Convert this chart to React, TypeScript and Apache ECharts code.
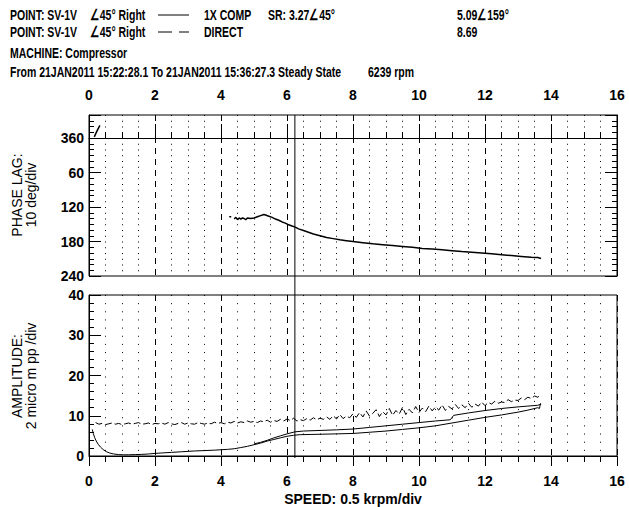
import React, { useEffect, useRef } from 'react';
import * as echarts from 'echarts';

// ---- data (speed in krpm) ----
const phaseSpeed = [0.16, 0.24, 0.33, 0.34,
  4.25, 4.31, 4.32,
  4.4, 4.45, 4.5, 4.55, 4.6, 4.65, 4.7, 4.75, 4.8, 4.9, 5.0, 5.1, 5.2, 5.3, 5.35, 5.45, 5.55, 5.65, 5.75, 5.85, 5.95,
  6.05, 6.15, 6.25, 6.35, 6.5, 6.65, 6.8, 7.0, 7.2, 7.4, 7.6, 7.8, 8.0, 8.3, 8.6, 8.9, 9.2, 9.5, 9.8, 10.1, 10.4,
  10.7, 11.0, 11.3, 11.6, 11.9, 12.2, 12.5, 12.8, 13.1, 13.4, 13.6, 13.7];
const phaseLag = [-2, -12, -22, null,
  137, 137, null,
  141, 138, 142, 139, 141, 139, 140, 142, 139, 140, 139, 137, 135, 133, 134, 136, 138, 141, 143, 146, 148,
  151, 153, 155, 158, 161, 164, 167, 170, 173, 175, 177, 178.5, 180, 182, 184, 185.5, 187, 188.5, 190, 192, 193,
  194.5, 196, 197.5, 198.5, 200, 201.5, 203, 204.5, 206, 207.5, 208, 209.5];

const compSpeed = [0.10, 0.13, 0.17, 0.22, 0.28, 0.35, 0.43, 0.52, 0.62, 0.75, 0.9, 1.05, 1.2, 1.4, 1.6, 1.8, 2.0,
  2.2, 2.5, 2.8, 3.0, 3.2, 3.5, 3.8, 4.0, 4.2, 4.4, 4.6, 4.8, 5.0, 5.2, 5.4, 5.6, 5.8, 6.0, 6.2, 6.4, 6.7, 7.0,
  7.5, 8.0, 8.5, 9.0, 9.5, 10.0, 10.5, 11.0, 11.5, 12.0, 12.5, 13.0, 13.3, 13.6, 13.65, 13.68, 13.7,
  13.6, 13.3, 13.0, 12.5, 12.0, 11.5, 11.05, 10.95, 10.5, 10.0, 9.5, 9.0, 8.5, 8.0, 7.5, 7.0, 6.5, 6.24, 6.0,
  5.8, 5.6, 5.4, 5.2, 5.0];
const compAmp = [6.6, 5.6, 4.6, 3.7, 2.9, 2.2, 1.6, 1.1, 0.75, 0.5, 0.35, 0.3, 0.3, 0.35, 0.4, 0.5, 0.65,
  0.75, 0.9, 1.05, 1.15, 1.25, 1.35, 1.45, 1.55, 1.65, 1.8, 2.1, 2.4, 2.8, 3.2, 3.7, 4.1, 4.5, 4.9, 5.15, 5.3, 5.35, 5.4,
  5.5, 5.6, 5.9, 6.2, 6.6, 7.0, 7.5, 8.2, 8.9, 9.6, 10.2, 10.9, 11.4, 12.0, 11.8, 13.0, 12.9,
  12.6, 12.4, 12.2, 11.8, 11.3, 10.7, 10.1, 9.0, 8.7, 8.3, 7.9, 7.5, 7.1, 6.7, 6.5, 6.35, 6.2, 6.0, 5.5,
  5.0, 4.5, 3.9, 3.4, 3.0];

const directSpeed = [0.2, 0.3, 0.4, 0.5, 0.6, 0.7, 0.8, 0.9, 1.0, 1.1,
  1.2, 1.3, 1.4, 1.5, 1.6, 1.7, 1.8, 1.9, 2.0, 2.1,
  2.2, 2.3, 2.4, 2.5, 2.6, 2.7, 2.8, 2.9, 3.0, 3.1,
  3.2, 3.3, 3.4, 3.5, 3.6, 3.7, 3.8, 3.9, 4.0, 4.1,
  4.2, 4.3, 4.4, 4.5, 4.6, 4.7, 4.8, 4.9, 5.0, 5.1,
  5.2, 5.3, 5.4, 5.5, 5.6, 5.7, 5.8, 5.9, 6.0, 6.1,
  6.2, 6.3, 6.4, 6.5, 6.6, 6.7, 6.8, 6.9, 7.0, 7.1,
  7.2, 7.3, 7.4, 7.5, 7.6, 7.7, 7.8, 7.9, 8.0, 8.1,
  8.2, 8.3, 8.4, 8.5, 8.6, 8.7, 8.8, 8.9, 9.0, 9.1,
  9.2, 9.3, 9.4, 9.5, 9.6, 9.7, 9.8, 9.9, 10.0, 10.1,
  10.2, 10.3, 10.4, 10.5, 10.6, 10.7, 10.8, 10.9, 11.0, 11.1,
  11.2, 11.3, 11.4, 11.5, 11.6, 11.7, 11.8, 11.9, 12.0, 12.1,
  12.2, 12.3, 12.4, 12.5, 12.6, 12.7, 12.8, 12.9, 13.0, 13.1,
  13.2, 13.3, 13.4, 13.5, 13.6, 13.7];
const directAmp = [8.3, 7.9, 8.1, 7.8, 8.0, 8.2, 7.9, 8.1, 7.8, 8.0,
  8.2, 7.9, 8.1, 8.3, 7.9, 8.0, 8.2, 7.8, 8.1, 8.0,
  8.2, 7.9, 8.3, 8.0, 7.8, 8.1, 8.3, 7.9, 8.2, 8.0,
  7.9, 8.3, 8.1, 7.9, 8.2, 8.0, 8.4, 8.1, 8.3, 8.0,
  8.4, 8.2, 8.6, 8.2, 8.5, 8.3, 8.7, 8.4, 8.6, 8.3,
  8.7, 8.5, 8.9, 8.4, 8.8, 8.6, 9.1, 8.7, 9.2, 8.8,
  9.4, 8.7, 9.0, 8.8, 9.3, 8.9, 9.5, 9.0, 9.4, 9.1,
  9.7, 9.1, 10.0, 9.2, 10.3, 9.3, 9.9, 9.5, 10.5, 9.6,
  10.8, 9.7, 11.2, 9.9, 10.6, 11.5, 9.8, 11.0, 10.2, 11.8,
  10.1, 11.3, 10.4, 12.1, 10.3, 11.6, 10.7, 12.3, 10.8, 11.9,
  11.0, 12.4, 11.2, 12.2, 11.4, 12.7, 11.3, 12.3, 11.7, 12.8,
  11.8, 12.7, 12.0, 13.1, 12.1, 12.9, 12.4, 13.4, 12.5, 13.3,
  12.9, 13.6, 13.1, 13.4, 13.3, 14.0, 13.5, 13.9, 13.8, 14.4,
  14.0, 14.6, 14.3, 14.9, 14.6, 15.3];

const cursorSpeed = 6.239;
const phaseLabels = ['360', '60', '120', '180', '240']; // for phase lag 0,60,120,180,240
const phaseLabelValues = [0, 60, 120, 180, 240];

const headerLine1 = ['POINT: SV-1V', '\u222045\u00b0 Right', '1X COMP', 'SR: 3.27\u222045\u00b0', '5.09\u2220159\u00b0'];
const headerLine2 = ['POINT: SV-1V', '\u222045\u00b0 Right', 'DIRECT', '8.69'];
const headerLine3 = 'MACHINE: Compressor';
const headerLine4 = ['From 21JAN2011 15:22:28.1 To 21JAN2011 15:36:27.3 Steady State', '6239 rpm'];

const BOLD = "'Liberation Sans', Arial, sans-serif";
const REG = "'Liberation Sans', Arial, sans-serif";

function pairs(xs: number[], ys: (number | null)[]) {
  return xs.map((x, i) => [x, ys[i] === null ? '-' : ys[i]]);
}

function htext(x: number, y: number, text: string) {
  return {
    type: 'text', x, y, scaleX: 0.7, silent: true,
    style: { text, fill: '#000', fontFamily: BOLD, fontSize: 15, fontWeight: 'bold', verticalAlign: 'middle' },
  };
}

export default function App() {
  const ref = useRef<HTMLDivElement>(null);
  useEffect(() => {
    if (!ref.current) return;
    const chart = echarts.init(ref.current, null, { renderer: 'svg' });
    const black = '#000';
    const axisLabelStyle = { color: black, fontFamily: BOLD, fontSize: 14, fontWeight: 'bold' };
    const Y1 = 15, Y2 = 32, Y3 = 53, Y4 = 72;
    const option: any = {
      animation: false,
      backgroundColor: '#fff',
      grid: [
        { left: 89, right: 12, top: 115, height: 161, show: true, borderColor: black, borderWidth: 1, backgroundColor: 'transparent' },
        { left: 89, right: 12, top: 295, height: 163, show: true, borderColor: black, borderWidth: 1, backgroundColor: 'transparent' },
        { left: 89, right: 12, top: 115, height: 343, show: false },
      ],
      xAxis: [
        {
          gridIndex: 0, type: 'value', position: 'top', min: 0, max: 16, interval: 2,
          axisLine: { show: true, lineStyle: { color: black } },
          axisTick: { show: true, inside: false, length: 14, lineStyle: { color: black } },
          minorTick: { show: true, splitNumber: 4, length: 6, lineStyle: { color: black } },
          axisLabel: { ...axisLabelStyle, margin: 13 },
          splitLine: { show: true, lineStyle: { color: black, type: [6, 5], width: 1 } },
          minorSplitLine: { show: true, lineStyle: { color: black, type: [1, 4.75], width: 1 } },
        },
        {
          gridIndex: 1, type: 'value', position: 'bottom', min: 0, max: 16, interval: 2,
          axisLine: { show: true, lineStyle: { color: black } },
          axisTick: { show: true, inside: false, length: 10, lineStyle: { color: black } },
          minorTick: { show: true, splitNumber: 4, length: 6, lineStyle: { color: black } },
          axisLabel: { ...axisLabelStyle, margin: 18 },
          splitLine: { show: true, lineStyle: { color: black, type: [6, 5], width: 1 } },
          minorSplitLine: { show: true, lineStyle: { color: black, type: [1, 7.15], width: 1 } },
          name: 'SPEED: 0.5 krpm/div', nameLocation: 'middle', nameGap: 36,
          nameTextStyle: { color: black, fontFamily: BOLD, fontSize: 14, fontWeight: 'bold' },
        },
        { gridIndex: 2, type: 'value', min: 0, max: 16, show: false },
      ],
      yAxis: [
        {
          gridIndex: 0, type: 'value', inverse: true, min: -40, max: 240, interval: 10, position: 'left',
          axisLine: { show: true, lineStyle: { color: black } },
          axisTick: { show: true, inside: true, length: 5, lineStyle: { color: black } },
          axisLabel: { show: false }, splitLine: { show: false },
        },
        {
          gridIndex: 0, type: 'value', min: 0, max: 280, interval: 60, position: 'left',
          axisLine: { show: false },
          axisTick: { show: true, inside: true, length: 12, lineStyle: { color: black } },
          axisLabel: {
            ...axisLabelStyle, margin: 5,
            formatter: (v: number) => {
              const idx = phaseLabelValues.indexOf(240 - v);
              return idx >= 0 ? phaseLabels[idx] : '';
            },
          },
          splitLine: { show: false },
        },
        {
          gridIndex: 0, type: 'value', inverse: true, min: -40, max: 240, interval: 10, position: 'right',
          axisLine: { show: true, lineStyle: { color: black } },
          axisTick: { show: true, inside: true, length: 5, lineStyle: { color: black } },
          axisLabel: { show: false }, splitLine: { show: false },
        },
        {
          gridIndex: 0, type: 'value', min: 0, max: 280, interval: 60, position: 'right',
          axisLine: { show: false },
          axisTick: { show: true, inside: true, length: 12, lineStyle: { color: black } },
          axisLabel: { show: false }, splitLine: { show: false },
        },
        {
          gridIndex: 1, type: 'value', min: 0, max: 40, interval: 10, position: 'left',
          axisLine: { show: true, lineStyle: { color: black } },
          axisTick: { show: true, inside: true, length: 12, lineStyle: { color: black } },
          minorTick: { show: true, splitNumber: 5, length: 5, lineStyle: { color: black } },
          axisLabel: { ...axisLabelStyle, margin: 5 },
          splitLine: { show: false },
        },
        { gridIndex: 2, type: 'value', min: 0, max: 1, show: false },
      ],
      series: [
        {
          type: 'line', xAxisIndex: 0, yAxisIndex: 0, data: pairs(phaseSpeed, phaseLag),
          symbol: 'none', connectNulls: false, silent: true,
          lineStyle: { color: black, width: 1.5 },
        },
        {
          type: 'line', xAxisIndex: 1, yAxisIndex: 4, data: pairs(compSpeed, compAmp),
          symbol: 'none', silent: true, lineStyle: { color: black, width: 1 },
        },
        {
          type: 'line', xAxisIndex: 1, yAxisIndex: 4, data: pairs(directSpeed, directAmp),
          symbol: 'none', silent: true, lineStyle: { color: black, width: 1, type: [7, 3] },
        },
        {
          type: 'line', xAxisIndex: 2, yAxisIndex: 5, data: [[cursorSpeed, 0], [cursorSpeed, 1]],
          symbol: 'none', silent: true, lineStyle: { color: black, width: 1 },
        },
      ],
      graphic: [
        htext(10, Y1, headerLine1[0]),
        htext(90, Y1, headerLine1[1]),
        { type: 'line', silent: true, shape: { x1: 158, y1: Y1, x2: 189, y2: Y1 }, style: { stroke: black, lineWidth: 1 } },
        htext(204, Y1, headerLine1[2]),
        htext(268, Y1, headerLine1[3]),
        htext(457, Y1, headerLine1[4]),
        htext(10, Y2, headerLine2[0]),
        htext(90, Y2, headerLine2[1]),
        { type: 'line', silent: true, shape: { x1: 158, y1: Y2, x2: 172, y2: Y2 }, style: { stroke: black, lineWidth: 1 } },
        { type: 'line', silent: true, shape: { x1: 179, y1: Y2, x2: 189, y2: Y2 }, style: { stroke: black, lineWidth: 1 } },
        htext(204, Y2, headerLine2[2]),
        htext(457, Y2, headerLine2[3]),
        htext(10, Y3, headerLine3),
        htext(10, Y4, headerLine4[0]),
        htext(368, Y4, headerLine4[1]),
        { type: 'text', x: 17, y: 195, rotation: Math.PI / 2, silent: true,
          style: { text: 'PHASE LAG:', fill: black, fontFamily: REG, fontSize: 14, align: 'center', verticalAlign: 'middle' } },
        { type: 'text', x: 31, y: 195, rotation: Math.PI / 2, silent: true,
          style: { text: '10 deg/div', fill: black, fontFamily: REG, fontSize: 14, align: 'center', verticalAlign: 'middle' } },
        { type: 'text', x: 17, y: 376, rotation: Math.PI / 2, silent: true,
          style: { text: 'AMPLITUDE:', fill: black, fontFamily: REG, fontSize: 14, align: 'center', verticalAlign: 'middle' } },
        { type: 'text', x: 31, y: 376, rotation: Math.PI / 2, silent: true,
          style: { text: '2 micro m pp /div', fill: black, fontFamily: REG, fontSize: 14, align: 'center', verticalAlign: 'middle' } },
      ],
    };
    chart.setOption(option);
    return () => chart.dispose();
  }, []);
  return <div ref={ref} style={{ position: 'absolute', left: 0, top: 0, width: 629, height: 507, background: '#fff' }} />;
}
